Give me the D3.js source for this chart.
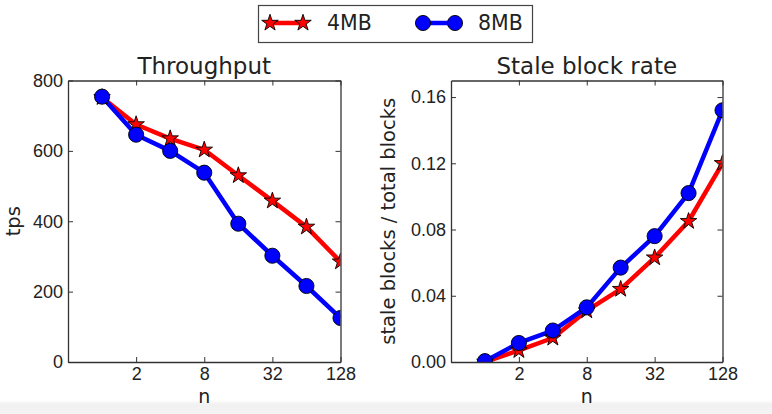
<!DOCTYPE html>
<html><head><meta charset="utf-8">
<script src="https://cdn.jsdelivr.net/npm/d3@7"></script>
<style>html,body{margin:0;padding:0;background:#fff;}svg{display:block;font-family:"DejaVu Sans",sans-serif;}</style>
</head><body>
<svg id="c" width="772" height="414"></svg>
<script>
const nValues = [1, 2, 4, 8, 16, 32, 64, 128];
const xTicks = [2, 8, 32, 128];
const seriesNames = ["4MB", "8MB"];
const throughput4MB = [752, 675, 635, 603, 530, 458, 384, 285];
const throughput8MB = [754, 646, 600, 538, 393, 302, 216, 125];
const stale4MB = [0.0, 0.007, 0.0145, 0.031, 0.044, 0.063, 0.085, 0.120];
const stale8MB = [0.0005, 0.0115, 0.019, 0.033, 0.057, 0.076, 0.102, 0.152];
const tpsTicks = [0, 200, 400, 600, 800];
const staleTicks = [0, 0.04, 0.08, 0.12, 0.16];

const svg = d3.select("#c");
const colors = {"4MB": "#ff0000", "8MB": "#0000ff"};

// bottom gray band
const defs = svg.append("defs");
const grad = defs.append("linearGradient").attr("id","bg").attr("x1",0).attr("x2",0).attr("y1",0).attr("y2",1);
grad.append("stop").attr("offset","0%").attr("stop-color","#ffffff");
grad.append("stop").attr("offset","30%").attr("stop-color","#f1f1f1");
grad.append("stop").attr("offset","100%").attr("stop-color","#f4f4f4");
svg.append("rect").attr("x",0).attr("y",400).attr("width",772).attr("height",14).attr("fill","url(#bg)");

const star = d3.symbol().type(d3.symbolStar).size(85);
const circ = d3.symbol().type(d3.symbolCircle).size(180);

function panel(opts) {
  const {id, left, right, top, bottom, yDomain, yTicks, yFmt, title, ylabel, ylabelX, data} = opts;
  const x = d3.scaleLog().base(2).domain([0.5, 128]).range([left, right]);
  const y = d3.scaleLinear().domain(yDomain).range([bottom, top]);
  const g = svg.append("g");
  defs.append("clipPath").attr("id", "clip" + id)
    .append("rect").attr("x", left).attr("y", top).attr("width", right - left).attr("height", bottom - top);

  const plot = g.append("g").attr("clip-path", `url(#clip${id})`);
  data.forEach(s => {
    const line = d3.line().x((d, i) => x(nValues[i])).y(d => y(d));
    plot.append("path").datum(s.values).attr("d", line)
      .attr("fill", "none").attr("stroke", colors[s.name]).attr("stroke-width", 4.5)
      .attr("stroke-linejoin", "round");
  });
  data.forEach(s => {
    plot.selectAll(null).data(s.values).enter().append("path")
      .attr("transform", (d, i) => `translate(${x(nValues[i])},${y(d)})`)
      .attr("d", s.name === "4MB" ? star : circ)
      .attr("fill", colors[s.name]).attr("stroke", "#000").attr("stroke-width", 0.9);
  });

  // axes (ticks inward on all sides)
  const axB = d3.axisBottom(x).tickValues(xTicks).tickFormat(d3.format("d")).tickSizeInner(-5).tickSizeOuter(0).tickPadding(5);
  const axT = d3.axisTop(x).tickValues(xTicks).tickFormat("").tickSizeInner(-5).tickSizeOuter(0);
  const axL = d3.axisLeft(y).tickValues(yTicks).tickFormat(yFmt).tickSizeInner(-5).tickSizeOuter(0).tickPadding(5);
  const axR = d3.axisRight(y).tickValues(yTicks).tickFormat("").tickSizeInner(-5).tickSizeOuter(0);
  const style = sel => {
    sel.select(".domain").attr("stroke", "#333").attr("stroke-width", 1.3);
    sel.selectAll(".tick line").attr("stroke", "#333").attr("stroke-width", 1);
    sel.selectAll(".tick text").attr("fill", "#222").style("font-size", "18px");
  };
  g.append("g").attr("transform", `translate(0,${bottom})`).call(axB).call(style);
  g.append("g").attr("transform", `translate(0,${top})`).call(axT).call(style);
  g.append("g").attr("transform", `translate(${left},0)`).call(axL).call(style);
  g.append("g").attr("transform", `translate(${right},0)`).call(axR).call(style);

  g.append("text").attr("x", (left + right) / 2).attr("y", 74).attr("text-anchor", "middle")
    .attr("fill", "#222").style("font-size", "23px").text(title);
  g.append("text").attr("x", (left + right) / 2).attr("y", 403).attr("text-anchor", "middle")
    .attr("fill", "#222").style("font-size", "19px").text("n");
  g.append("text").attr("transform", `translate(${ylabelX},${(top + bottom) / 2}) rotate(-90)`)
    .attr("text-anchor", "middle").attr("dominant-baseline", "central")
    .attr("fill", "#222").style("font-size", "19.5px").text(ylabel);
}

panel({id: "a", left: 68, right: 340.5, top: 80.5, bottom: 362, yDomain: [0, 800], yTicks: tpsTicks,
  yFmt: d3.format("d"), title: "Throughput", ylabel: "tps", ylabelX: 13,
  data: [{name: "4MB", values: throughput4MB}, {name: "8MB", values: throughput8MB}]});
panel({id: "b", left: 451, right: 722.5, top: 80.5, bottom: 362, yDomain: [0, 0.17], yTicks: staleTicks,
  yFmt: d3.format(".2f"), title: "Stale block rate", ylabel: "stale blocks / total blocks", ylabelX: 388,
  data: [{name: "4MB", values: stale4MB}, {name: "8MB", values: stale8MB}]});

// legend
const lg = svg.append("g");
lg.append("rect").attr("x", 258.5).attr("y", 5.5).attr("width", 274).attr("height", 37)
  .attr("fill", "#fff").attr("stroke", "#444").attr("stroke-width", 1.2);
const legendItems = [{name: "4MB", x0: 270, x1: 303, tx: 327}, {name: "8MB", x0: 423, x1: 455, tx: 478}];
legendItems.forEach(it => {
  lg.append("line").attr("x1", it.x0).attr("x2", it.x1).attr("y1", 23).attr("y2", 23)
    .attr("stroke", colors[it.name]).attr("stroke-width", 4.5);
  [it.x0, it.x1].forEach(px => lg.append("path").attr("transform", `translate(${px},23)`)
    .attr("d", it.name === "4MB" ? star : circ).attr("fill", colors[it.name]).attr("stroke", "#000").attr("stroke-width", 0.9));
  lg.append("text").attr("x", it.tx).attr("y", 23).attr("dominant-baseline", "central")
    .attr("fill", "#222").style("font-size", "20.5px").text(it.name);
});
</script>
</body></html>
